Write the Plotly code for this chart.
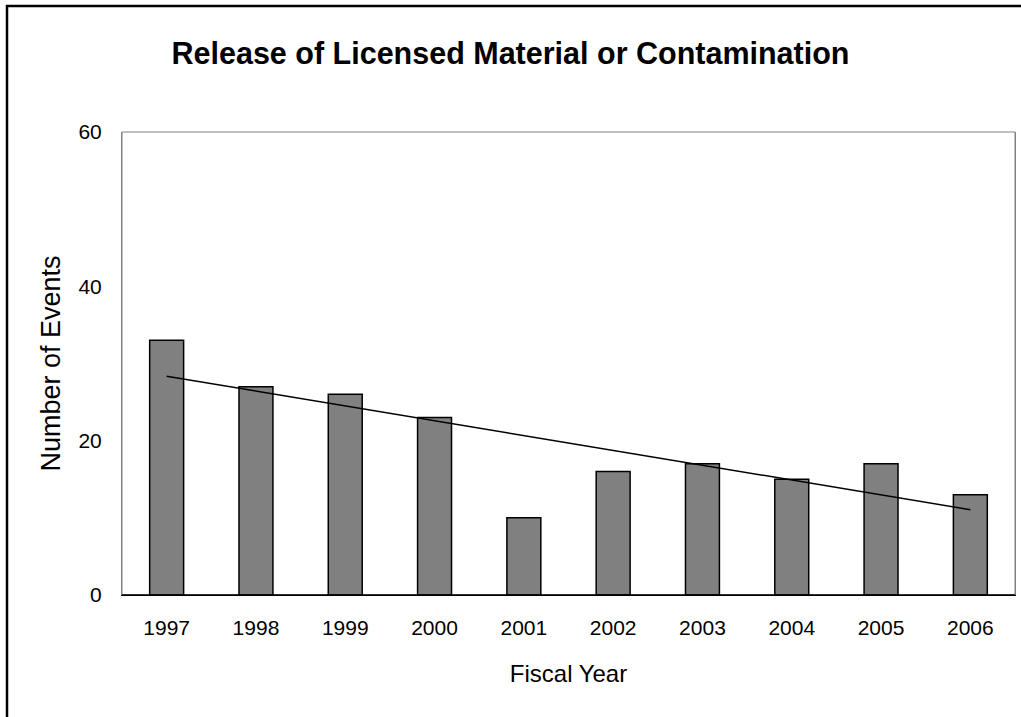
import plotly.graph_objects as go
import numpy as np

years = ["1997", "1998", "1999", "2000", "2001", "2002", "2003", "2004", "2005", "2006"]
events = [33, 27, 26, 23, 10, 16, 17, 15, 17, 13]

# linear trend (least squares) fitted to the data
xi = np.arange(len(years))
slope, intercept = np.polyfit(xi, events, 1)
trend = (slope * xi + intercept).tolist()

FONT = "Liberation Sans, Arial, sans-serif"

fig = go.Figure()
fig.add_trace(go.Bar(
    x=years, y=events, width=0.38,
    marker=dict(color="#808080", line=dict(color="black", width=1.5)),
    showlegend=False,
))
fig.add_trace(go.Scatter(
    x=years, y=trend, mode="lines",
    line=dict(color="black", width=1.5), showlegend=False,
))

fig.update_layout(
    width=1021, height=717,
    margin=dict(l=122, r=6, t=132, b=122),
    paper_bgcolor="white", plot_bgcolor="white",
    font=dict(family=FONT, color="black"),
    title=dict(text="<b>Release of Licensed Material or Contamination</b>",
               x=0.5, xanchor="center", y=1 - 53 / 717, yanchor="middle",
               font=dict(size=30.5, family=FONT, color="black")),
    xaxis=dict(
        showgrid=False, showline=True, linecolor="black", linewidth=1,
        ticks="", tickfont=dict(size=21), ticklabelstandoff=14,
        title=dict(text="Fiscal Year", font=dict(size=24), standoff=26),
        mirror=False,
    ),
    yaxis=dict(
        range=[0, 60], tickvals=[0, 20, 40, 60], showgrid=False,
        showline=True, linecolor="#808080", linewidth=1, mirror=True,
        ticks="", tickfont=dict(size=21), ticklabelstandoff=15,
        title=dict(text="Number of Events", font=dict(size=27), standoff=9),
        zeroline=False,
    ),
)
# gray frame of plot area
fig.add_shape(type="rect", xref="paper", yref="paper", x0=0, y0=0, x1=1, y1=1,
              line=dict(color="#808080", width=1), layer="below")
# black x-axis baseline
fig.add_shape(type="line", xref="paper", yref="paper", x0=0, y0=0, x1=1, y1=0,
              line=dict(color="black", width=1.5))
# outer chart frame
fig.add_shape(type="rect", xref="paper", yref="paper",
              x0=-115/893, y0=-130/463, x1=1.02, y1=1 + 126/463,
              line=dict(color="black", width=2.5))

fig.write_html("out.html", config={"displayModeBar": False},
               post_script="document.body.style.margin='0';document.body.style.overflow='hidden';")
